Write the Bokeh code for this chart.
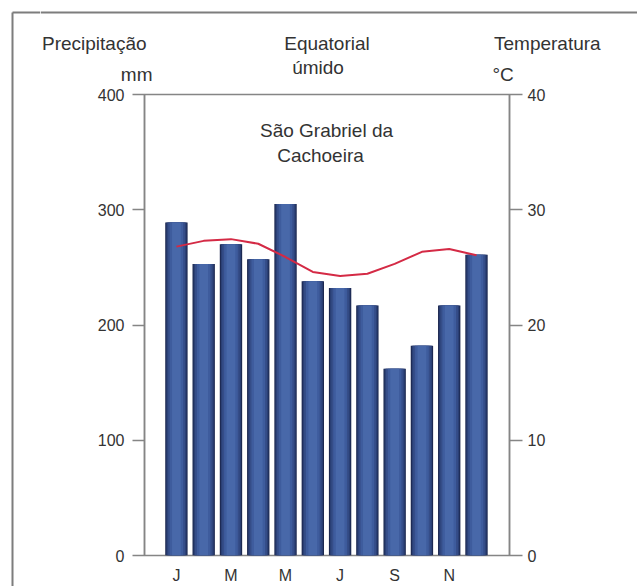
from bokeh.plotting import figure
from bokeh.models import (Range1d, LinearAxis, FixedTicker, Label)
from bokeh.layouts import column, row
from bokeh.embed import file_html
from bokeh.resources import INLINE

# ---- data ----
months = [1, 2, 3, 4, 5, 6, 7, 8, 9, 10, 11, 12]
month_labels = ["J", "F", "M", "A", "M", "J", "J", "A", "S", "O", "N", "D"]
precip_mm = [289, 253, 270, 257, 305, 238, 232, 217, 162, 182, 217, 261]
temp_c = [26.8, 27.3, 27.45, 27.05, 25.9, 24.6, 24.25, 24.45, 25.3, 26.35, 26.6, 26.05]
precip_ticks = [0, 100, 200, 300, 400]
temp_ticks = [0, 10, 20, 30, 40]
shown_months = [1, 3, 5, 7, 9, 11]

FONT = "Liberation Sans"
TXT = "#333333"
AX = "#858585"
FRAME_C = "#7d7d7d"

TOTAL_W, TOTAL_H = 637, 586
HEAD_H = 84
STRIP_W = 40
MAIN_W = TOTAL_W - STRIP_W
MAIN_H = TOTAL_H - HEAD_H
ML, MR, MT, MB = 104, 128, 10, 31
XR0, XR1 = -0.17, 13.21
YR0, YR1 = 0, 400


def pixel_fig(w, h):
    f = figure(width=w, height=h, output_backend="svg", toolbar_location=None,
               x_range=Range1d(0, w), y_range=Range1d(h, 0),
               x_axis_location=None, y_axis_location=None,
               min_border=0, min_border_left=0, min_border_right=0,
               min_border_top=0, min_border_bottom=0)
    f.grid.visible = False
    f.outline_line_color = None
    f.background_fill_color = "white"
    f.border_fill_color = "white"
    return f

# ---- left strip: outer frame corner and left edge ----
pl = pixel_fig(STRIP_W, TOTAL_H)
pl.segment(x0=[12, 12], y0=[12, 12], x1=[STRIP_W, 12], y1=[12, TOTAL_H],
           line_color=FRAME_C, line_width=2)

# ---- header strip ----
ph = pixel_fig(MAIN_W, HEAD_H)
ph.segment(x0=[0], y0=[12], x1=[MAIN_W], y1=[12], line_color=FRAME_C, line_width=2)


def hl(text, x, y, align, size="19px"):
    ph.add_layout(Label(x=x - STRIP_W, y=y, text=text, text_align=align,
                        text_baseline="alphabetic", text_font=FONT,
                        text_font_size=size, text_color=TXT))


hl("Precipitação", 41.5, 42.5, "left")
hl("mm", 152, 73.5, "right")
hl("Equatorial", 326.5, 42.5, "center")
hl("úmido", 317.5, 67, "center")
hl("Temperatura", 493.5, 42.5, "left")
hl("°C", 492, 74, "left")

# ---- main chart ----
p = figure(width=MAIN_W, height=MAIN_H, output_backend="svg", toolbar_location=None,
           x_range=Range1d(XR0, XR1), y_range=Range1d(YR0, YR1),
           min_border_left=ML, min_border_right=MR, min_border_top=MT, min_border_bottom=MB,
           background_fill_color="white", border_fill_color="white")
p.extra_y_ranges = {"temp": Range1d(0, 40)}
p.grid.visible = False
p.outline_line_color = AX
p.outline_line_width = 1.5

FW = MAIN_W - ML - MR
FH = MAIN_H - MT - MB
FL_REF = STRIP_W + ML
FB_REF = HEAD_H + MT + FH


def dx(xr):
    return XR0 + (xr - FL_REF) * (XR1 - XR0) / FW


def dy(yr):
    return (FB_REF - yr) * (YR1 - YR0) / FH

# left axis
ya = p.yaxis[0]
ya.ticker = FixedTicker(ticks=precip_ticks)
ya.axis_line_color = AX
ya.axis_line_width = 1.5
ya.major_tick_line_color = AX
ya.major_tick_line_width = 1.5
ya.major_tick_out = 12
ya.major_tick_in = 0
ya.minor_tick_line_color = None
ya.major_label_standoff = 8
ya.major_label_text_font = FONT
ya.major_label_text_font_size = "16px"
ya.major_label_text_color = TXT

# right axis
ra = LinearAxis(y_range_name="temp", ticker=FixedTicker(ticks=temp_ticks))
ra.axis_line_color = AX
ra.axis_line_width = 1.5
ra.major_tick_line_color = AX
ra.major_tick_line_width = 1.5
ra.major_tick_out = 13
ra.major_tick_in = 0
ra.minor_tick_line_color = None
ra.major_label_standoff = 5
ra.major_label_text_font = FONT
ra.major_label_text_font_size = "16px"
ra.major_label_text_color = TXT
p.add_layout(ra, "right")

# bottom axis
xa = p.xaxis[0]
xa.ticker = FixedTicker(ticks=shown_months)
xa.major_label_overrides = {m: month_labels[m - 1] for m in shown_months}
xa.axis_line_color = None
xa.major_tick_line_color = None
xa.minor_tick_line_color = None
xa.major_tick_out = 0
xa.major_label_standoff = 11
xa.major_label_text_font = FONT
xa.major_label_text_font_size = "16px"
xa.major_label_text_color = TXT

# bars with a shaded look (layered)
layers = [(0.82, "#1c2850"), (0.74, "#2a3f74"), (0.64, "#354d88"), (0.50, "#3e5c9d"), (0.32, "#4868a9")]
for w, c in layers:
    p.vbar(x=months, top=precip_mm, bottom=0, width=w, fill_color=c, line_color=None)

# temperature curve
p.line(months, temp_c, y_range_name="temp", line_color="#d42a45", line_width=2)


def lab(text, xr, yr, align, size="19px"):
    p.add_layout(Label(x=dx(xr), y=dy(yr), text=text, text_align=align,
                       text_baseline="alphabetic", text_font=FONT,
                       text_font_size=size, text_color=TXT))


lab("São Grabriel da", 326, 129.5, "center")
lab("Cachoeira", 320, 154.5, "center")

layout = row(pl, column(ph, row(p, spacing=0), spacing=0), spacing=0)
open("out.html", "w").write(file_html(layout, INLINE))
